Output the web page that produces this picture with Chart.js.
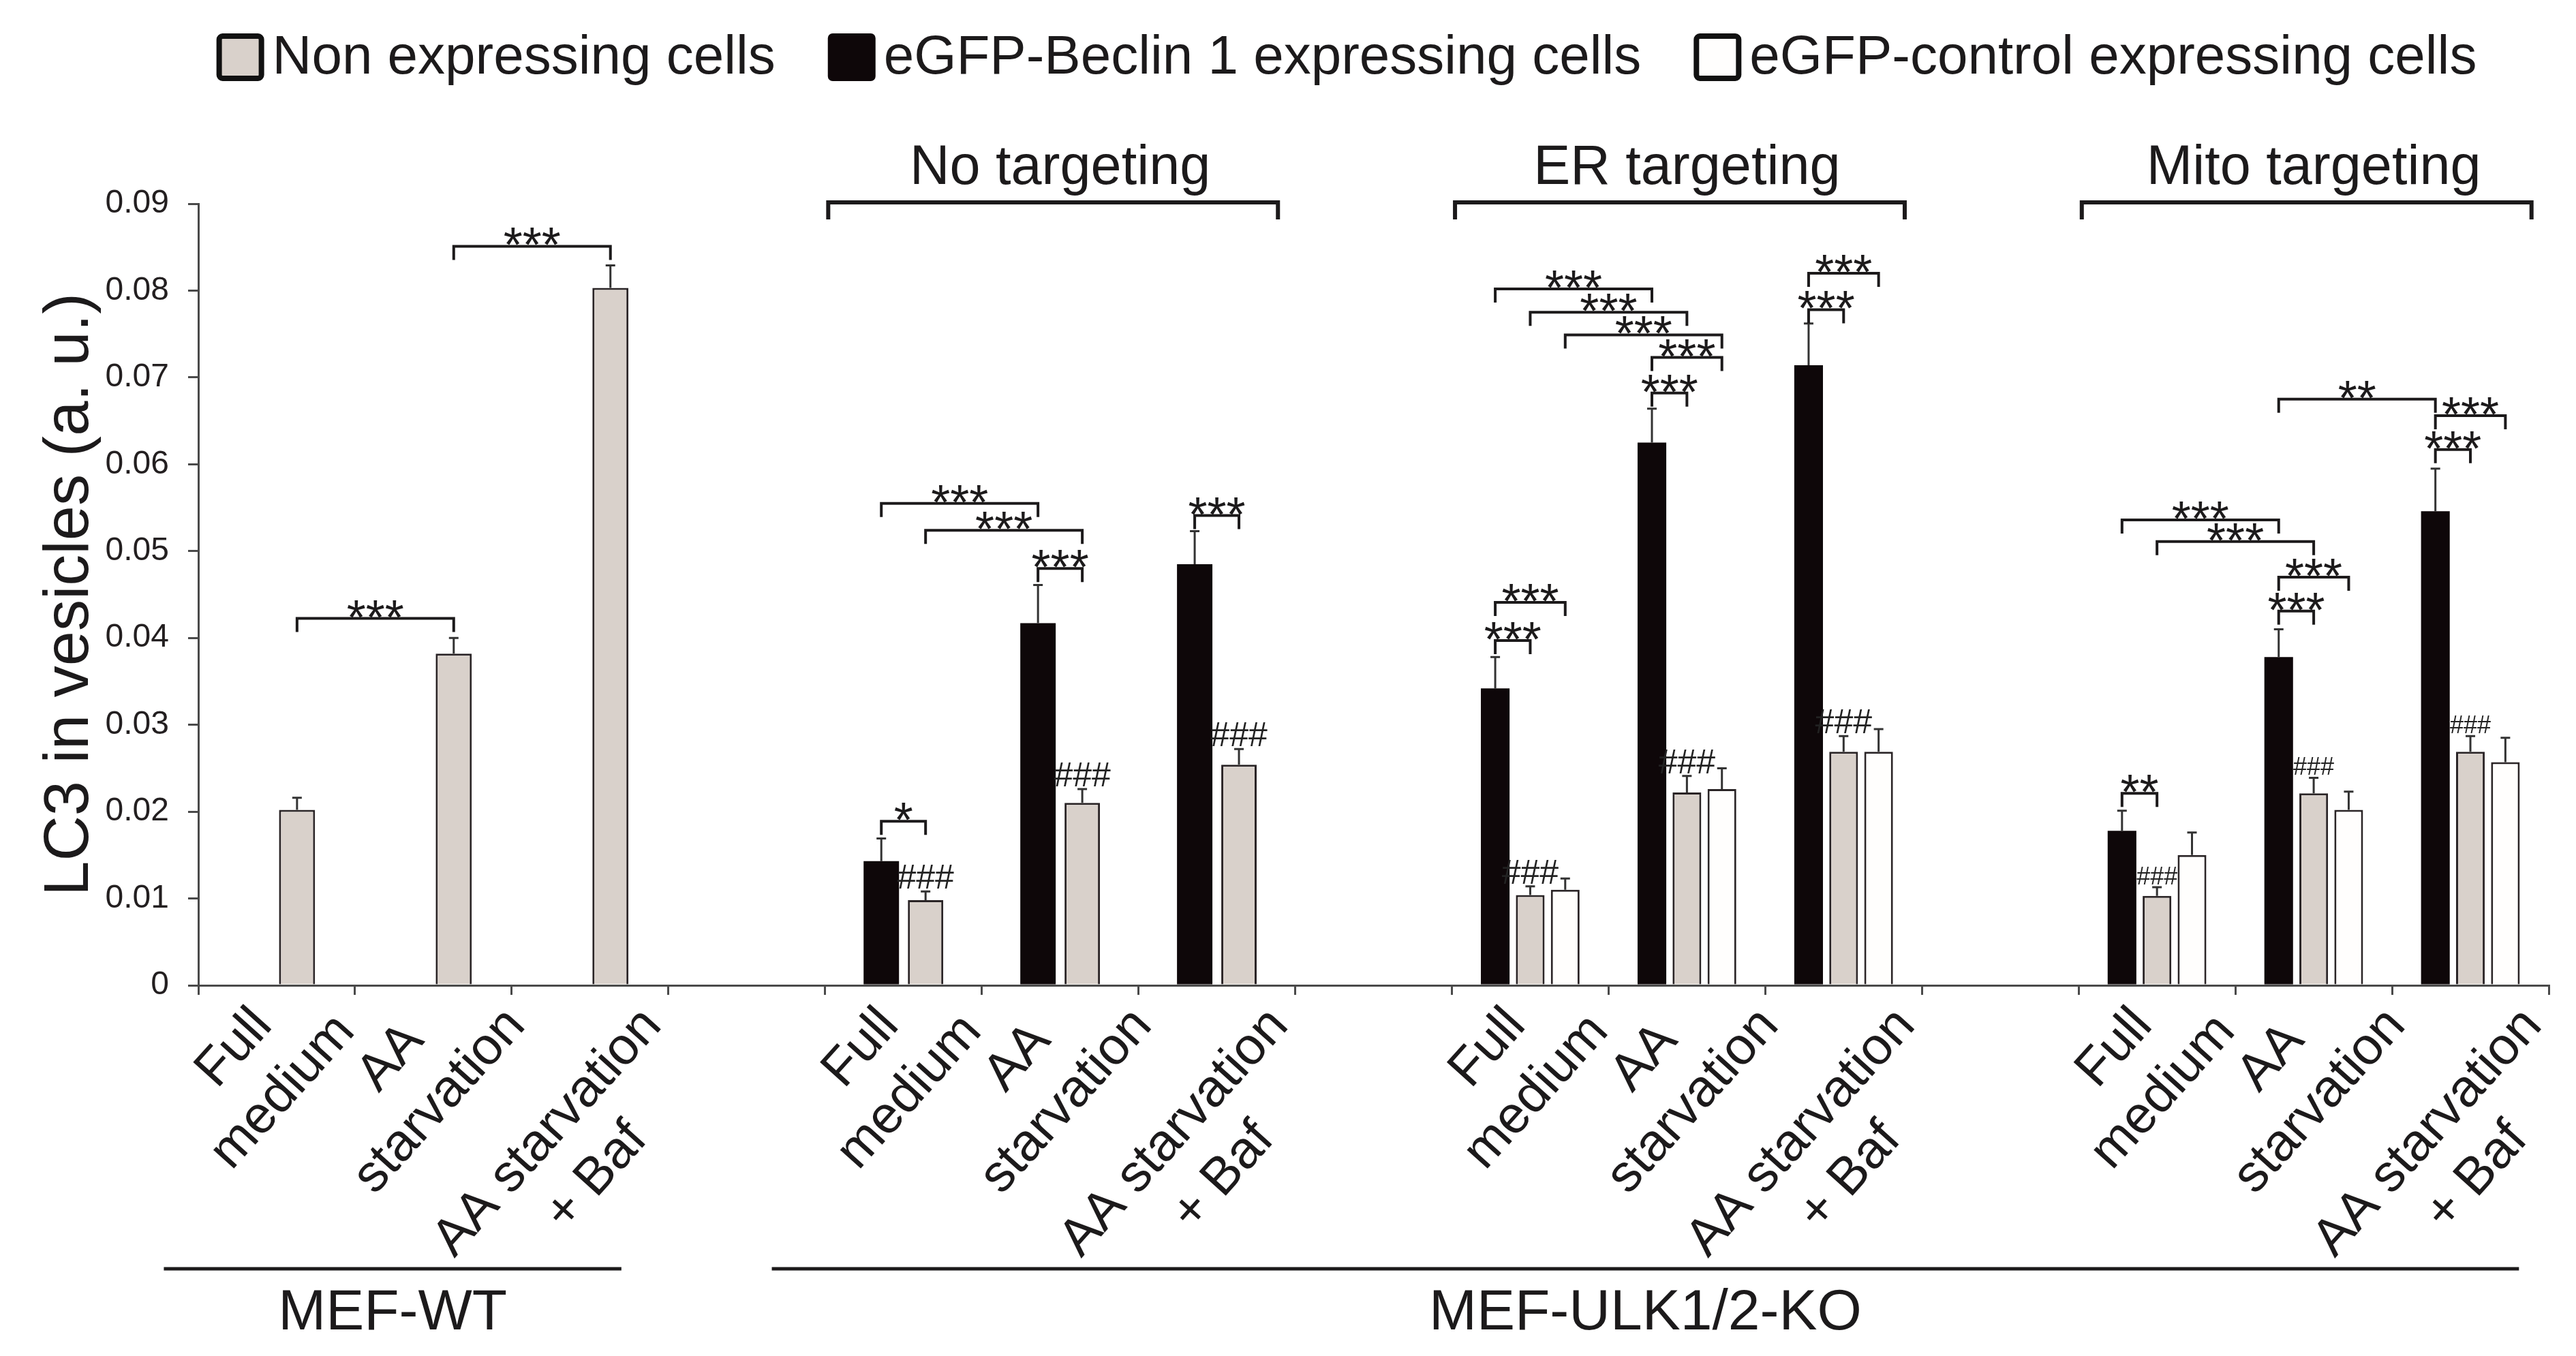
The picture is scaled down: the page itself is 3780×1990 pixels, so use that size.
<!DOCTYPE html>
<html>
<head>
<meta charset="utf-8">
<script src="https://cdn.jsdelivr.net/npm/chart.js@4.4.1/dist/chart.umd.min.js"></script>
<style>
html,body{margin:0;padding:0;background:#ffffff;}
#wrap{width:3780px;height:1990px;position:relative;}
</style>
</head>
<body>
<div id="wrap"><canvas id="c"></canvas></div>
<script>
// ---------------- DATA ----------------
const categories = [
  ["Full","medium"], ["AA","starvation"], ["AA starvation","+ Baf"], [],
  ["Full","medium"], ["AA","starvation"], ["AA starvation","+ Baf"], [],
  ["Full","medium"], ["AA","starvation"], ["AA starvation","+ Baf"], [],
  ["Full","medium"], ["AA","starvation"], ["AA starvation","+ Baf"]
];
// bar layout family of each category
const barGroup = ["wt","wt","wt",null,"pair","pair","pair",null,"triple","triple","triple",null,"triple","triple","triple"];

const seriesNames = {
  g: "Non expressing cells",
  b: "eGFP-Beclin 1 expressing cells",
  w: "eGFP-control expressing cells"
};
const nonExpressing    = [0.0202,0.0382,0.0803,null, 0.0098,0.0210,0.0254,null, 0.0104,0.0222,0.0269,null, 0.0103,0.0221,0.0269];
const nonExpressingErr = [0.0014,0.0018,0.0026,null, 0.0010,0.0016,0.0018,null, 0.0010,0.0019,0.0018,null, 0.0010,0.0018,0.0018];
const beclin           = [null,null,null,null, 0.0143,0.0417,0.0485,null, 0.0342,0.0625,0.0714,null, 0.0178,0.0378,0.0546];
const beclinErr        = [null,null,null,null, 0.0026,0.0044,0.0038,null, 0.0036,0.0039,0.0048,null, 0.0023,0.0032,0.0049];
const control          = [null,null,null,null, null,null,null,null, 0.0110,0.0226,0.0269,null, 0.0150,0.0202,0.0257];
const controlErr       = [null,null,null,null, null,null,null,null, 0.0013,0.0024,0.0026,null, 0.0026,0.0021,0.0028];

const yTicks = [0,0.01,0.02,0.03,0.04,0.05,0.06,0.07,0.08,0.09];
const yTitle = "LC3 in vesicles (a. u.)";

// significance brackets: [category, series] -> [category, series], level (a.u.), label
const brackets = [
  {a:[0,"g"], b:[1,"g"], level:0.04225, label:"***"},
  {a:[1,"g"], b:[2,"g"], level:0.0851,  label:"***"},
  {a:[4,"b"], b:[4,"g"], level:0.0189,  label:"*"},
  {a:[4,"b"], b:[5,"b"], level:0.0555,  label:"***"},
  {a:[4,"g"], b:[5,"g"], level:0.0524,  label:"***"},
  {a:[5,"b"], b:[5,"g"], level:0.0480,  label:"***"},
  {a:[6,"b"], b:[6,"g"], level:0.0541,  label:"***"},
  {a:[8,"b"], b:[8,"g"], level:0.0397,  label:"***"},
  {a:[8,"b"], b:[8,"w"], level:0.0441,  label:"***"},
  {a:[8,"b"], b:[9,"b"], level:0.0802,  label:"***"},
  {a:[8,"g"], b:[9,"g"], level:0.0775,  label:"***"},
  {a:[8,"w"], b:[9,"w"], level:0.0749,  label:"***"},
  {a:[9,"b"], b:[9,"w"], level:0.0723,  label:"***"},
  {a:[9,"b"], b:[9,"g"], level:0.0682,  label:"***"},
  {a:[10,"b"], b:[10,"g"], level:0.0778, label:"***"},
  {a:[10,"b"], b:[10,"w"], level:0.0820, label:"***"},
  {a:[12,"b"], b:[12,"g"], level:0.0221, label:"**"},
  {a:[12,"b"], b:[13,"b"], level:0.0536, label:"***"},
  {a:[12,"g"], b:[13,"g"], level:0.0511, label:"***"},
  {a:[13,"b"], b:[13,"w"], level:0.0470, label:"***"},
  {a:[13,"b"], b:[13,"g"], level:0.0431, label:"***"},
  {a:[13,"b"], b:[14,"b"], level:0.0675, label:"**"},
  {a:[14,"b"], b:[14,"w"], level:0.0656, label:"***"},
  {a:[14,"b"], b:[14,"g"], level:0.0617, label:"***"}
];
// "###" marks above non-expressing bars
const hashMarks = [4,5,6,8,9,10,12,13,14];
const hashLabel = "###";

const headerGroups = [
  {from:4,  to:6,  text:"No targeting"},
  {from:8,  to:10, text:"ER targeting"},
  {from:12, to:14, text:"Mito targeting"}
];
const bottomGroups = [
  {from:0, to:2,  text:"MEF-WT"},
  {from:4, to:14, text:"MEF-ULK1/2-KO"}
];

// ---------------- STYLE ----------------
const FF = "'Liberation Sans', Arial, Helvetica, sans-serif";
const COL = {g:"#d9d1cb", b:"#0e0709", w:"#fffefd"};
const INK = "#1c1a1b";
const AXIS = "#4a4a4a";
const groupStyle = {
  // WT: single bar drawn in the right-hand slot of a two-bar layout
  wt:     {categoryPercentage:0.39,  barPercentage:1.77, skipNull:false, stack:"w"},
  pair:   {categoryPercentage:0.565, barPercentage:0.80, skipNull:true},
  triple: {categoryPercentage:0.67,  barPercentage:0.82, skipNull:true}
};
const bottomOffsets = [[-0.22,-0.30],[-0.34,-0.19]];
const hashSize = [50,50,50,50,50,50,50,50,50,50,50,50,36,36,36];

const seriesData = {g:nonExpressing, b:beclin, w:control};
const seriesErr  = {g:nonExpressingErr, b:beclinErr, w:controlErr};

function pick(arr, grp){ return arr.map((v,i)=> barGroup[i]===grp ? v : null); }
function makeDs(key, grp){
  const st = groupStyle[grp];
  return {
    key: key,
    label: seriesNames[key],
    data: pick(seriesData[key], grp),
    stack: st.stack || key,
    skipNull: st.skipNull,
    backgroundColor: COL[key],
    borderColor: "#2a2426",
    borderWidth: key === "b" ? 0 : 3,
    borderSkipped: "start",
    categoryPercentage: st.categoryPercentage,
    barPercentage: st.barPercentage
  };
}
const datasets = [
  makeDs("b","pair"), makeDs("g","pair"),
  makeDs("b","triple"), makeDs("g","triple"), makeDs("w","triple"),
  makeDs("g","wt")
];

function barEl(chart, idx, key){
  for (let j=0;j<chart.data.datasets.length;j++){
    const ds = chart.data.datasets[j];
    if (ds.key===key && ds.data[idx]!==null && ds.data[idx]!==undefined){
      return {el: chart.getDatasetMeta(j).data[idx], v: ds.data[idx]};
    }
  }
  return null;
}

const overlay = {
  id: "overlay",
  afterDatasetsDraw(chart){
    const ctx = chart.ctx, ys = chart.scales.y;
    ctx.save();
    ctx.strokeStyle = "#333"; ctx.lineWidth = 3;
    ["b","g","w"].forEach(k=>{
      seriesData[k].forEach((v,i)=>{
        if (v===null) return;
        const e = seriesErr[k][i]; const b = barEl(chart,i,k); if(!b||e===null) return;
        const x = b.el.x, y0 = ys.getPixelForValue(v), y1 = ys.getPixelForValue(v+e);
        ctx.beginPath(); ctx.moveTo(x,y0); ctx.lineTo(x,y1);
        ctx.moveTo(x-7,y1); ctx.lineTo(x+7,y1); ctx.stroke();
      });
    });
    ctx.restore();
  },
  afterDraw(chart){
    const ctx = chart.ctx, xs = chart.scales.x, ys = chart.scales.y, area = chart.chartArea;
    const slot = xs.getPixelForValue(1) - xs.getPixelForValue(0);
    ctx.save();
    ctx.fillStyle = INK; ctx.strokeStyle = INK;

    // significance brackets
    ctx.font = `72px ${FF}`;
    brackets.forEach(br=>{
      const A = barEl(chart, br.a[0], br.a[1]), B = barEl(chart, br.b[0], br.b[1]);
      if(!A||!B) return;
      const y = ys.getPixelForValue(br.level);
      ctx.lineWidth = 4;
      ctx.beginPath();
      ctx.moveTo(A.el.x, y+20); ctx.lineTo(A.el.x, y); ctx.lineTo(B.el.x, y); ctx.lineTo(B.el.x, y+20);
      ctx.stroke();
      const m = ctx.measureText(br.label);
      ctx.textAlign = "center"; ctx.textBaseline = "alphabetic";
      ctx.fillText(br.label, (A.el.x+B.el.x)/2, y - 1 - m.actualBoundingBoxDescent);
    });

    // hash marks
    hashMarks.forEach(i=>{
      const g = barEl(chart,i,"g"); if(!g) return;
      const top = ys.getPixelForValue(nonExpressing[i] + nonExpressingErr[i]);
      ctx.font = `${hashSize[i]}px ${FF}`;
      ctx.fillStyle = "#222";
      ctx.textAlign = "center"; ctx.textBaseline = "alphabetic";
      ctx.fillText(hashLabel, g.el.x, top - 4);
    });
    ctx.fillStyle = INK;

    // header groups
    headerGroups.forEach(h=>{
      const x0 = xs.getPixelForValue(h.from) - slot/2 + 0.02*slot;
      const x1 = xs.getPixelForValue(h.to) + slot/2 - 0.11*slot;
      const y = area.top - 2;
      ctx.lineWidth = 6;
      ctx.beginPath(); ctx.moveTo(x0, y+25); ctx.lineTo(x0, y); ctx.lineTo(x1, y); ctx.lineTo(x1, y+25); ctx.stroke();
      ctx.font = `81px ${FF}`; ctx.textAlign = "center"; ctx.textBaseline = "alphabetic";
      const cx = (xs.getPixelForValue(h.from) + xs.getPixelForValue(h.to))/2;
      ctx.fillText(h.text, cx, area.top - 29);
    });

    // x category labels (rotated, centred lines)
    const theta = 48*Math.PI/180, fs = 77, LS = 96, cap = 0.72*fs;
    ctx.font = `${fs}px ${FF}`;
    categories.forEach((lines,i)=>{
      if(!lines.length) return;
      const n = lines.length;
      let minRel = Infinity;
      lines.forEach((ln,k)=>{
        const w = ctx.measureText(ln).width, o = (k-(n-1)/2)*LS;
        minRel = Math.min(minRel, -(w/2)*Math.sin(theta) + (o-cap/2)*Math.cos(theta));
      });
      const cx = xs.getPixelForValue(i) - 26;
      const cy = area.bottom + 28 - minRel;
      ctx.save(); ctx.translate(cx, cy); ctx.rotate(-theta);
      ctx.textAlign = "center"; ctx.textBaseline = "middle";
      lines.forEach((ln,k)=> ctx.fillText(ln, 0, (k-(n-1)/2)*LS));
      ctx.restore();
    });

    // bottom groups
    bottomGroups.forEach((g,gi)=>{
      const x0 = xs.getPixelForValue(g.from) - slot/2 + bottomOffsets[gi][0]*slot;
      const x1 = xs.getPixelForValue(g.to) + slot/2 + bottomOffsets[gi][1]*slot;
      const y = area.bottom + 416;
      ctx.lineWidth = 5;
      ctx.beginPath(); ctx.moveTo(x0,y); ctx.lineTo(x1,y); ctx.stroke();
      ctx.font = `84px ${FF}`; ctx.textAlign = "center"; ctx.textBaseline = "alphabetic";
      ctx.fillText(g.text, (x0+x1)/2, area.bottom + 505);
    });

    // legend
    const order = ["g","b","w"];
    const box = 70, gap = 12, itemGap = 77;
    ctx.font = `80px ${FF}`;
    const widths = order.map(k=>ctx.measureText(seriesNames[k]).width);
    const total = widths.reduce((a,b)=>a+b,0) + order.length*(box+gap) + (order.length-1)*itemGap;
    let x = 1976 - total/2;
    const ly = 84;
    order.forEach((k,i)=>{
      const bx = x, by = ly - box/2;
      ctx.beginPath();
      if (k==="b"){
        ctx.fillStyle = COL.b; ctx.roundRect(bx, by, box, box, 7); ctx.fill();
      } else {
        ctx.fillStyle = COL[k]; ctx.strokeStyle = "#111"; ctx.lineWidth = 8;
        ctx.roundRect(bx+4, by+4, box-8, box-8, 5); ctx.fill(); ctx.stroke();
      }
      ctx.fillStyle = INK; ctx.textAlign = "left"; ctx.textBaseline = "middle";
      ctx.fillText(seriesNames[k], bx + box + gap, ly + 2);
      x += box + gap + widths[i] + itemGap;
    });
    ctx.restore();
  }
};

new Chart(document.getElementById("c"), {
  type: "bar",
  data: { labels: categories.map(l=>l.join(" ")), datasets: datasets },
  options: {
    responsive: true,
    maintainAspectRatio: false,
    devicePixelRatio: 1,
    animation: false,
    layout: { padding: {left:0, right:40, top:299, bottom:0} },
    plugins: { legend:{display:false}, tooltip:{enabled:false} },
    scales: {
      x: {
        type: "category", offset: true, position: "bottom",
        grid: { offset:true, drawOnChartArea:false, drawTicks:true, tickLength:14, color:AXIS, lineWidth:3 },
        border: { color:AXIS, width:3 },
        ticks: { display:false },
        afterFit(s){ s.height = 544; }
      },
      y: {
        min: 0, max: 0.09,
        afterBuildTicks(s){ s.ticks = yTicks.map(v=>({value:v})); },
        ticks: {
          font: {size:48, family:FF}, color:"#231f20", padding:28,
          callback: v => v===0 ? "0" : Number(v).toFixed(2)
        },
        grid: { drawOnChartArea:false, drawTicks:true, tickLength:15, color:AXIS, lineWidth:3 },
        border: { color:AXIS, width:3 },
        title: { display:true, text:yTitle, color:INK, font:{size:92, family:FF, lineHeight:1}, padding:{top:58, bottom:0} },
        afterFit(s){ s.width = 291; }
      }
    }
  },
  plugins: [overlay]
});
</script>
</body>
</html>
